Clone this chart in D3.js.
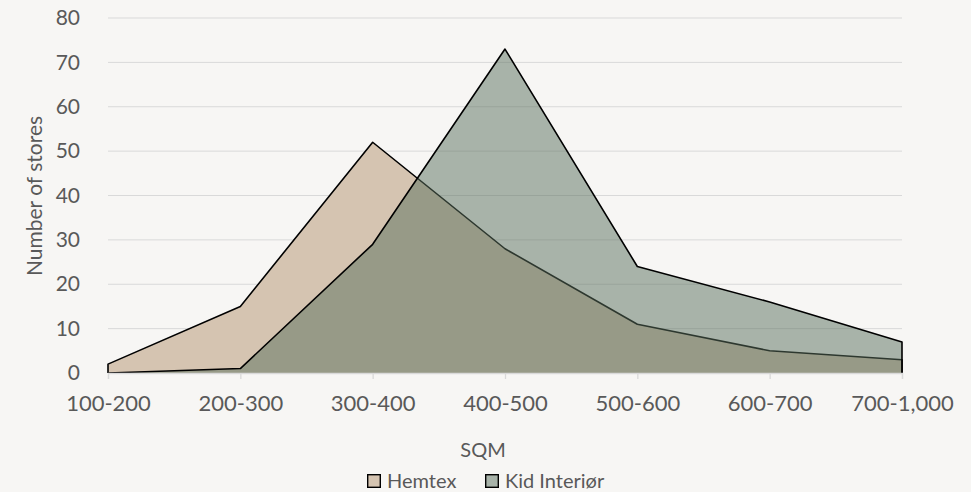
<!DOCTYPE html>
<html><head><meta charset="utf-8">
<script src="https://cdn.jsdelivr.net/npm/d3@7"></script>
<style>
html,body{margin:0;padding:0;background:#f7f6f4;}
svg{display:block;font-family:Lato,"Open Sans",sans-serif;}
</style></head>
<body><svg id="c" width="971" height="492"></svg>
<script>
const categories = ["100-200","200-300","300-400","400-500","500-600","600-700","700-1,000"];
const hemtex = [2, 15, 52, 28, 11, 5, 3];
const kidInterior = [0, 1, 29, 73, 24, 16, 7];
const yTicks = [0,10,20,30,40,50,60,70,80];
const seriesNames = ["Hemtex","Kid Interiør"];

const svg = d3.select("#c");
const m = {l:108, r:902, t:18, b:373};
const x = d3.scalePoint().domain(categories).range([m.l, m.r]);
const y = d3.scaleLinear().domain([0,80]).range([m.b, m.t]);
const txt = "#595959";

// gridlines
svg.append("g").selectAll("line").data(yTicks.filter(d=>d>0)).join("line")
  .attr("x1", m.l).attr("x2", m.r)
  .attr("y1", d=>y(d)).attr("y2", d=>y(d))
  .attr("stroke", "#d9d9d9").attr("stroke-width", 1);

const area = d3.area().x((d,i)=>x(categories[i])).y0(y(0)).y1(d=>y(d));
function outline(vals){
  const pts = vals.map((v,i)=>[x(categories[i]), y(v)]);
  return [[pts[0][0], y(0)], ...pts, [pts[pts.length-1][0], y(0)]];
}
const line = d3.line();

svg.append("path").attr("d", area(hemtex)).attr("fill", "#d5c4b1");
svg.append("path").attr("d", line(outline(hemtex))).attr("fill","none")
  .attr("stroke","#000").attr("stroke-width",1.6).attr("stroke-linejoin","round");

svg.append("path").attr("d", area(kidInterior)).attr("fill", "rgb(89,112,94)").attr("fill-opacity",0.5);
svg.append("path").attr("d", line(outline(kidInterior))).attr("fill","none")
  .attr("stroke","#000").attr("stroke-width",1.6).attr("stroke-linejoin","round");

// x axis
const xAxis = d3.axisBottom(x).tickSize(6);
const gx = svg.append("g").attr("transform", `translate(0,${y(0)})`).call(xAxis);
gx.select(".domain").attr("stroke","#d9d9d9").attr("stroke-width",1.3);
gx.selectAll(".tick line").attr("stroke","#d9d9d9").attr("stroke-width",1.3);
gx.selectAll("text").attr("fill",txt).attr("font-size",22).attr("font-family","Lato")
  .attr("y",38).attr("dy",null);

// y axis labels
const yAxis = d3.axisLeft(y).tickValues(yTicks).tickSize(0).tickPadding(28);
const gy = svg.append("g").attr("transform", `translate(${m.l},0)`).call(yAxis);
gy.select(".domain").remove();
gy.selectAll("text").attr("fill",txt).attr("font-size",21).attr("font-family","Lato");

// axis titles
svg.append("text").attr("x", 483).attr("y", 457).attr("text-anchor","middle")
  .attr("fill",txt).attr("font-size",20).text("SQM");
svg.append("text").attr("transform","translate(42,196) rotate(-90)").attr("text-anchor","middle")
  .attr("fill",txt).attr("font-size",21).text("Number of stores");

// legend
const legColors = ["#d5c4b1","#a8b3a9"];
const legX = [367, 485];
const lg = svg.append("g").selectAll("g").data(seriesNames).join("g")
  .attr("transform",(d,i)=>`translate(${legX[i]},474)`);
lg.append("rect").attr("x",0.7).attr("y",0.7).attr("width",12.6).attr("height",12.6).attr("fill",(d,i)=>legColors[i])
  .attr("stroke","#000").attr("stroke-width",1.4);
lg.append("text").attr("x",20).attr("y",13.5).attr("fill",txt).attr("font-size",20).text(d=>d);
</script></body></html>
